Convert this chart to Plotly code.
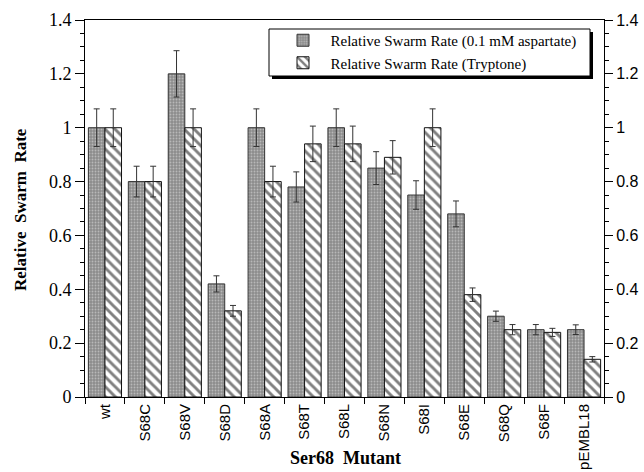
import plotly.graph_objects as go

categories = ["wt", "S68C", "S68V", "S68D", "S68A", "S68T", "S68L",
              "S68N", "S68I", "S68E", "S68Q", "S68F", "pEMBL18"]
aspartate = [1.00, 0.80, 1.20, 0.42, 1.00, 0.78, 1.00, 0.85, 0.75, 0.68, 0.30, 0.25, 0.25]
aspartate_err = [0.07, 0.057, 0.086, 0.03, 0.07, 0.056, 0.07, 0.061, 0.053, 0.048, 0.019, 0.019, 0.018]
tryptone = [1.00, 0.80, 1.00, 0.32, 0.80, 0.94, 0.94, 0.89, 1.00, 0.38, 0.25, 0.24, 0.14]
tryptone_err = [0.07, 0.057, 0.07, 0.02, 0.057, 0.066, 0.066, 0.062, 0.07, 0.025, 0.019, 0.015, 0.01]
y_ticks = [0, 0.2, 0.4, 0.6, 0.8, 1.0, 1.2, 1.4]
y_ticktext = ["0", "0.2", "0.4", "0.6", "0.8", "1", "1.2", "1.4"]

SERIF = "Liberation Serif"
SANS = "Liberation Sans"
NB = "\u00a0\u00a0"

fig = go.Figure()
fig.add_trace(go.Bar(
    x=categories, y=aspartate, name=NB + "Relative Swarm Rate (0.1 mM aspartate)",
    marker=dict(color="#8c8c8c", line=dict(color="#333333", width=1),
                pattern=dict(shape=".", fgcolor="#e4e4e4", size=3, solidity=0.3)),
    error_y=dict(type="data", array=aspartate_err, color="#333333", thickness=1, width=3),
))
fig.add_trace(go.Bar(
    x=categories, y=tryptone, name=NB + "Relative Swarm Rate (Tryptone)",
    marker=dict(color="white", line=dict(color="#111111", width=1),
                pattern=dict(shape="\\", fgcolor="black", bgcolor="white", size=7, solidity=0.42)),
    error_y=dict(type="data", array=tryptone_err, color="#333333", thickness=1, width=3),
))
# invisible trace to anchor right axis
fig.add_trace(go.Scatter(x=[categories[0]], y=[0], yaxis="y2", mode="markers",
                         marker=dict(opacity=0), showlegend=False, hoverinfo="skip"))

def px_x(p):
    return (p - 85) / 519.0

def px_y(p):
    return (397 - p) / 377.0

fig.update_layout(
    width=644, height=472,
    margin=dict(l=85, r=40, t=20, b=75),
    paper_bgcolor="white", plot_bgcolor="white",
    barmode="group", bargap=0.17, bargroupgap=0,
    showlegend=True,
    legend=dict(x=px_x(283), y=px_y(24), xanchor="left", yanchor="top",
                bgcolor="rgba(0,0,0,0)", borderwidth=0,
                font=dict(family=SERIF, size=15, color="black"),
                tracegroupgap=0),
    shapes=[
        dict(type="rect", xref="paper", yref="paper", layer="above",
             x0=px_x(272), x1=px_x(593), y0=px_y(79), y1=px_y(32),
             fillcolor="black", line=dict(width=0)),
        dict(type="rect", xref="paper", yref="paper", layer="above",
             x0=px_x(269), x1=px_x(590), y0=px_y(76), y1=px_y(29),
             fillcolor="white", line=dict(color="black", width=1)),
    ],
    xaxis=dict(type="category", range=[-0.5, 12.5], tickson="boundaries",
               ticks="outside", ticklen=6, tickcolor="black", tickwidth=1,
               showline=True, linecolor="black", linewidth=1, mirror=True,
               tickangle=-90, tickfont=dict(family=SANS, size=15, color="black"),
               showgrid=False, zeroline=False, automargin=False),
    yaxis=dict(range=[0, 1.4], tickvals=y_ticks, ticktext=y_ticktext,
               ticks="outside", ticklen=9, tickcolor="black", tickwidth=1,
               minor=dict(dtick=0.05, ticks="outside", ticklen=4, tickcolor="black", showgrid=False),
               showline=True, linecolor="black", linewidth=1,
               tickfont=dict(family=SERIF, size=18, color="black"),
               showgrid=False, zeroline=False, automargin=False),
    yaxis2=dict(range=[0, 1.4], overlaying="y", side="right",
                tickvals=y_ticks, ticktext=y_ticktext,
                ticks="outside", ticklen=8, tickcolor="black", tickwidth=1,
                minor=dict(dtick=0.05, ticks="outside", ticklen=4, tickcolor="black", showgrid=False),
                showline=True, linecolor="black", linewidth=1,
                tickfont=dict(family=SANS, size=16, color="black"),
                showgrid=False, zeroline=False, automargin=False),
    annotations=[
        dict(text="<b>Relative  Swarm  Rate</b>", xref="paper", yref="paper",
             x=px_x(20), y=px_y(210), xanchor="center", yanchor="middle",
             textangle=-90, showarrow=False,
             font=dict(family=SERIF, size=17, color="black")),
        dict(text="<b>Ser68  Mutant</b>", xref="paper", yref="paper",
             x=px_x(345), y=px_y(458), xanchor="center", yanchor="middle", showarrow=False,
             font=dict(family=SERIF, size=18, color="black")),
    ],
)

fig.write_html("out.html")
